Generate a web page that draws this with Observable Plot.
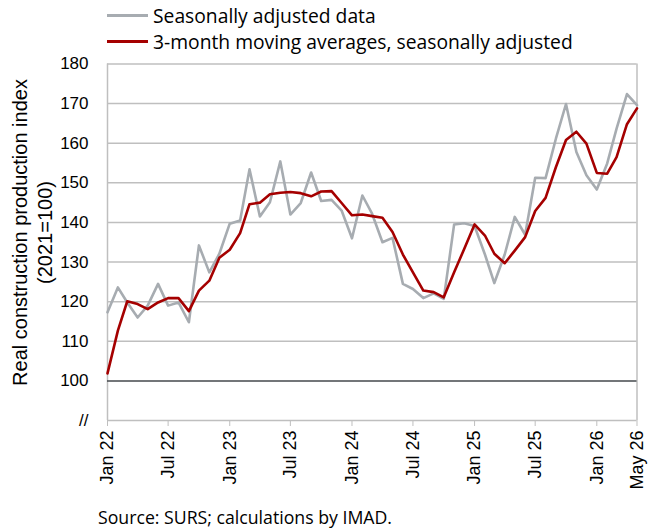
<!DOCTYPE html>
<html><head><meta charset="utf-8">
<script src="https://cdn.jsdelivr.net/npm/d3@7"></script>
<script src="https://cdn.jsdelivr.net/npm/@observablehq/plot@0.6"></script>
<style>
body{margin:0;background:#fff;}
#legend{position:relative;width:650px;height:55px;font-family:'Open Sans',sans-serif;font-size:18px;color:#000;}
.row{position:absolute;left:107px;height:26px;display:flex;align-items:center;white-space:nowrap;}
.sw{display:inline-block;width:41px;height:3px;margin-right:5px;}
#source{position:relative;height:30px;font-family:'Open Sans',sans-serif;font-size:16px;white-space:nowrap;}
#source span{position:absolute;left:98px;top:50%;transform:translateY(-50%);}
svg{display:block;}
</style></head><body>
<div id="legend"></div>
<div id="chart"></div>
<div id="source"></div>
<script>
const startMonth = "2022-01-01";
const seriesNames = ["Seasonally adjusted data", "3-month moving averages, seasonally adjusted"];
const seasonallyAdjusted = [
 117.3,123.6,119.8,116.0,119.0,124.5,119.0,119.8,114.8,134.2,127.4,132.1,
 139.7,140.5,153.4,141.5,145.1,155.4,142.0,144.9,152.6,145.4,145.7,143.0,
 136.0,146.8,142.2,135.0,136.1,124.5,123.2,120.9,122.1,120.7,139.5,139.8,
 139.1,131.9,124.7,131.9,141.4,136.9,151.3,151.2,161.2,169.9,157.8,151.9,
 148.3,154.9,163.7,172.4,169.6
];
const movingAverage = [
 101.9,112.7,120.1,119.4,118.1,119.8,120.9,120.9,117.6,122.8,125.3,131.1,
 133.1,137.3,144.6,145.0,147.1,147.5,147.7,147.4,146.6,147.8,147.9,144.9,
 141.8,142.0,141.6,141.2,137.6,131.9,127.4,122.8,122.4,121.1,127.4,133.3,
 139.5,136.7,132.1,129.7,132.9,136.3,142.9,146.2,154.0,160.8,162.9,159.9,
 152.5,152.3,156.5,164.8,168.8
];
const xTickMonths = ["2022-01-01","2022-07-01","2023-01-01","2023-07-01","2024-01-01","2024-07-01","2025-01-01","2025-07-01","2026-01-01","2026-05-01"];
const yTicks = [90,100,110,120,130,140,150,160,170,180];
const gridValues = [110,120,130,140,150,160,170,180];
const yLabel = "Real construction production index\n(2021=100)";
const sourceText = "Source: SURS; calculations by IMAD.";
const colors = ["#a7acb1", "#a50000"];

const d0 = new Date(startMonth + "T00:00:00Z");
const dates = seasonallyAdjusted.map((_, i) => d3.utcMonth.offset(d0, i));
const dEnd = dates[dates.length - 1];
const tickDates = xTickMonths.map(s => new Date(s + "T00:00:00Z"));
const rows = [
  ...dates.map((d, i) => ({date: d, value: seasonallyAdjusted[i], series: seriesNames[0]})),
  ...dates.map((d, i) => ({date: d, value: movingAverage[i], series: seriesNames[1]}))
];

// legend
const leg = document.getElementById("legend");
const legTexts = [];
seriesNames.forEach((n, i) => {
  const r = document.createElement("div");
  r.className = "row";
  r.style.top = (2 + i * 26) + "px";
  r.innerHTML = `<span class="sw" style="background:${colors[i]}"></span><span class="lt">${n}</span>`;
  leg.appendChild(r);
  legTexts.push(r.querySelector(".lt"));
});
// fit legend font to reference text width
const w2 = legTexts[1].getBoundingClientRect().width;
if (w2 > 0) leg.style.fontSize = (18 * 420 / w2).toFixed(2) + "px";

const src = document.getElementById("source");
const srcSpan = document.createElement("span");
srcSpan.textContent = sourceText;
src.appendChild(srcSpan);
const ws = srcSpan.getBoundingClientRect().width;
if (ws > 0) src.style.fontSize = (16 * 294 / ws).toFixed(2) + "px";

const fmt = d3.utcFormat("%b %y");
const chart = Plot.plot({
  width: 650,
  height: 447,
  marginTop: 8.5,
  marginBottom: 82,
  marginLeft: 107,
  marginRight: 13.5,
  style: {fontFamily: "'Liberation Sans', Arial, sans-serif", fontSize: "17px", color: "#000"},
  x: {type: "utc", domain: [d0, dEnd], label: null},
  y: {domain: [90, 180], label: null},
  marks: [
    Plot.ruleY(gridValues, {stroke: "#bfbfbf", strokeWidth: 1.5}),
    Plot.ruleY([90], {stroke: "#bfbfbf", strokeWidth: 1.5}),
    Plot.ruleX([d0, dEnd], {stroke: "#bfbfbf", strokeWidth: 1.5}),
    Plot.ruleY([100], {stroke: "#45484c", strokeWidth: 1.5}),
    Plot.lineY(rows.filter(r => r.series === seriesNames[0]), {x: "date", y: "value", stroke: colors[0], strokeWidth: 2.6}),
    Plot.lineY(rows.filter(r => r.series === seriesNames[1]), {x: "date", y: "value", stroke: colors[1], strokeWidth: 2.6}),
    Plot.axisX({ticks: tickDates, tickFormat: fmt, tickRotate: -90, tickSize: 6, tickPadding: 4, stroke: "#bfbfbf", fill: "#000", fontSize: 18, label: null}),
    Plot.axisY({ticks: yTicks, tickFormat: d => d === 90 ? "//" : d, tickSize: 0, tickPadding: 19, fill: "#000", fontSize: 17, label: null}),
    Plot.text([yLabel], {frameAnchor: "left", dx: -76.5, dy: -9.75, rotate: -90, fontSize: 20, lineHeight: 1.25, textAnchor: "middle", lineAnchor: "middle", fill: "#000"})
  ]
});
document.getElementById("chart").appendChild(chart);
</script>
</body></html>
